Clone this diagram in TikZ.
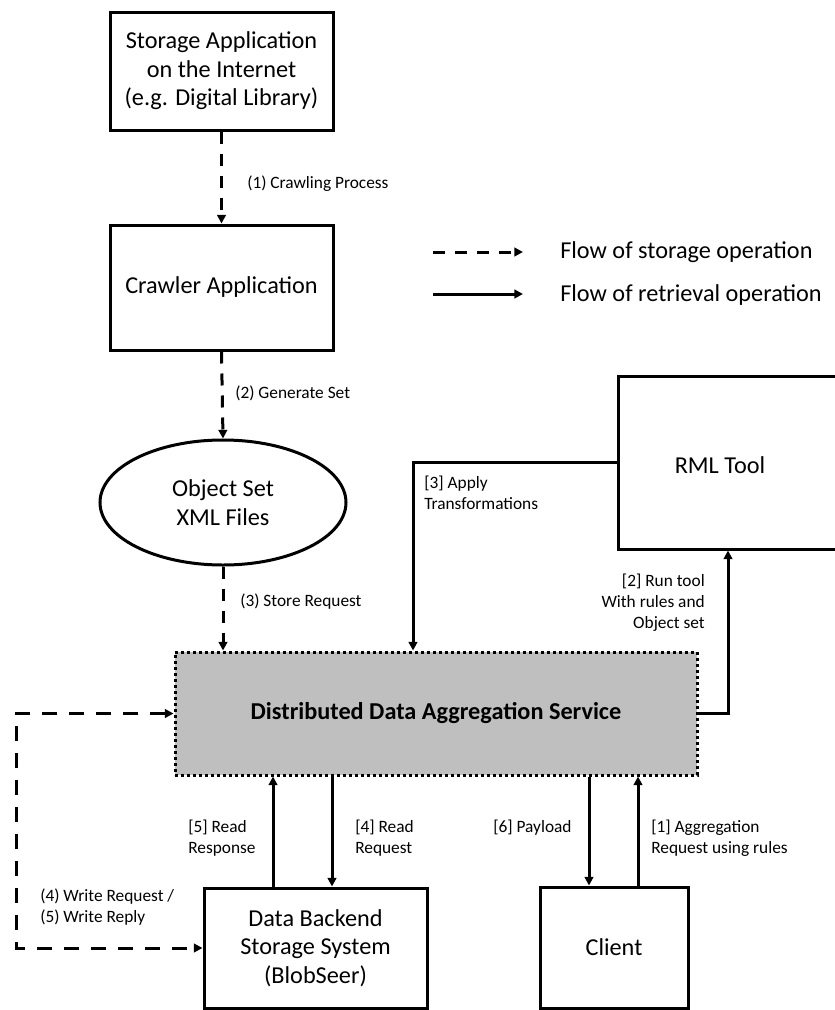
\documentclass[tikz,border=0pt]{standalone}
\usepackage{fontspec}
\setmainfont{Carlito}
\usetikzlibrary{arrows.meta,shapes.geometric}
\definecolor{ddasgray}{RGB}{191,191,191}
\tikzset{
  box/.style={draw, line width=2.25pt, rectangle, align=center, inner sep=0pt,
    font=\fontsize{18.2}{21.4}\selectfont},
  flow/.style={line width=2.25pt, -{Triangle[length=6.5pt,width=6.5pt]}},
  storeflow/.style={flow, dash pattern=on 9pt off 7.5pt},
  longdash/.style={dash pattern=on 11.25pt off 9pt},
  lab/.style={font=\fontsize{13}{15.75}\selectfont, inner sep=0pt, align=left},
  legtext/.style={font=\fontsize{18.2}{21.4}\selectfont, inner sep=0pt, anchor=west},
}
\begin{document}
\begin{tikzpicture}[x=0.75pt,y=-0.75pt]
\useasboundingbox (0,0) rectangle (835,1010);

% nodes
\node[box, minimum width=167.25pt, minimum height=88.5pt] (store) at (221.5,71)
  {Storage Application\\on the Internet\\(e.g. Digital Library)};
\node[box, minimum width=167.25pt, minimum height=93.75pt] (crawler) at (221.5,287.5)
  {Crawler Application};
\node[box, ellipse, minimum width=184.5pt, minimum height=93.75pt] (obj) at (223,502.5)
  {Object Set\\XML Files};
\node[box, minimum width=174pt, minimum height=129.75pt] (rml) at (734,462.5) {};
\node[legtext, anchor=center] (rmltext) at (720,465) {RML Tool};
\node[box, fill=ddasgray, dash pattern=on 2.25pt off 2.25pt, minimum width=391.5pt,
  minimum height=92.25pt, font=\fontsize{18.2}{21.4}\selectfont\bfseries] (ddas) at (436,713.5)
  {Distributed Data Aggregation Service};
\node[box, minimum width=167.25pt, minimum height=90pt] (backend) at (315.5,948)
  {Data Backend\\Storage System\\(BlobSeer)};
\node[box, minimum width=111pt, minimum height=90.75pt] (client) at (614,947.5)
  {Client};

% helper coordinates
\coordinate (applyx) at (413,0);
\coordinate (runx) at (728,0);
\coordinate (loopx) at (16,0);
\coordinate (rrx) at (273,0);
\coordinate (rqx) at (332,0);
\coordinate (payx) at (589,0);
\coordinate (aggx) at (638,0);

% storage flows
\draw[storeflow] (store.south) -- (crawler.north);
\draw[storeflow] (crawler.south) -- (obj.north);
\draw[storeflow] (obj.south) -- (obj.south |- ddas.north);
\draw[storeflow, longdash, {Triangle[length=6.5pt,width=6.5pt]}-{Triangle[length=6.5pt,width=6.5pt]}]
  (ddas.west) -- (loopx |- ddas.west) -- (loopx |- backend.west) -- (backend.west);

% retrieval flows
\draw[flow] (rml.west) -| (applyx |- ddas.north);
\draw[flow] (ddas.east) -| (runx |- rml.south);
\draw[flow] (rrx |- backend.north) -- (rrx |- ddas.south);
\draw[flow] (rqx |- ddas.south) -- (rqx |- backend.north);
\draw[flow] (payx |- ddas.south) -- (payx |- client.north);
\draw[flow] (aggx |- client.north) -- (aggx |- ddas.south);

% labels
\node[lab, anchor=west] (l1) at (247,184) {(1) Crawling Process};
\node[lab, anchor=west] (l2) at (235,393) {(2) Generate Set};
\node[lab, anchor=west] (l3) at (240,602) {(3) Store Request};
\node[lab, anchor=west] (l3b) at (424,493) {[3] Apply\\Transformations};
\node[lab, anchor=east, align=right] (l2b) at (705,603) {[2] Run tool\\With rules and\\Object set};
\node[lab, anchor=west] (l5) at (188,838.5) {[5] Read\\Response};
\node[lab, anchor=west] (l4) at (355,838.5) {[4] Read\\Request};
\node[lab, anchor=west] (l6) at (493,828) {[6] Payload};
\node[lab, anchor=west] (l1b) at (651,838.5) {[1] Aggregation\\Request using rules};
\node[lab, anchor=west] (lw) at (40,907.5) {(4) Write Request /\\(5) Write Reply};

% legend
\coordinate (lga) at (433,252);
\coordinate (lgb) at (523,252);
\coordinate (lgc) at (433,294);
\coordinate (lgd) at (523,294);
\draw[storeflow] (lga) -- (lgb);
\draw[flow] (lgc) -- (lgd);
\node[legtext] (lt1) at (560,252) {Flow of storage operation};
\node[legtext] (lt2) at (560,295) {Flow of retrieval operation};
\end{tikzpicture}
\end{document}
